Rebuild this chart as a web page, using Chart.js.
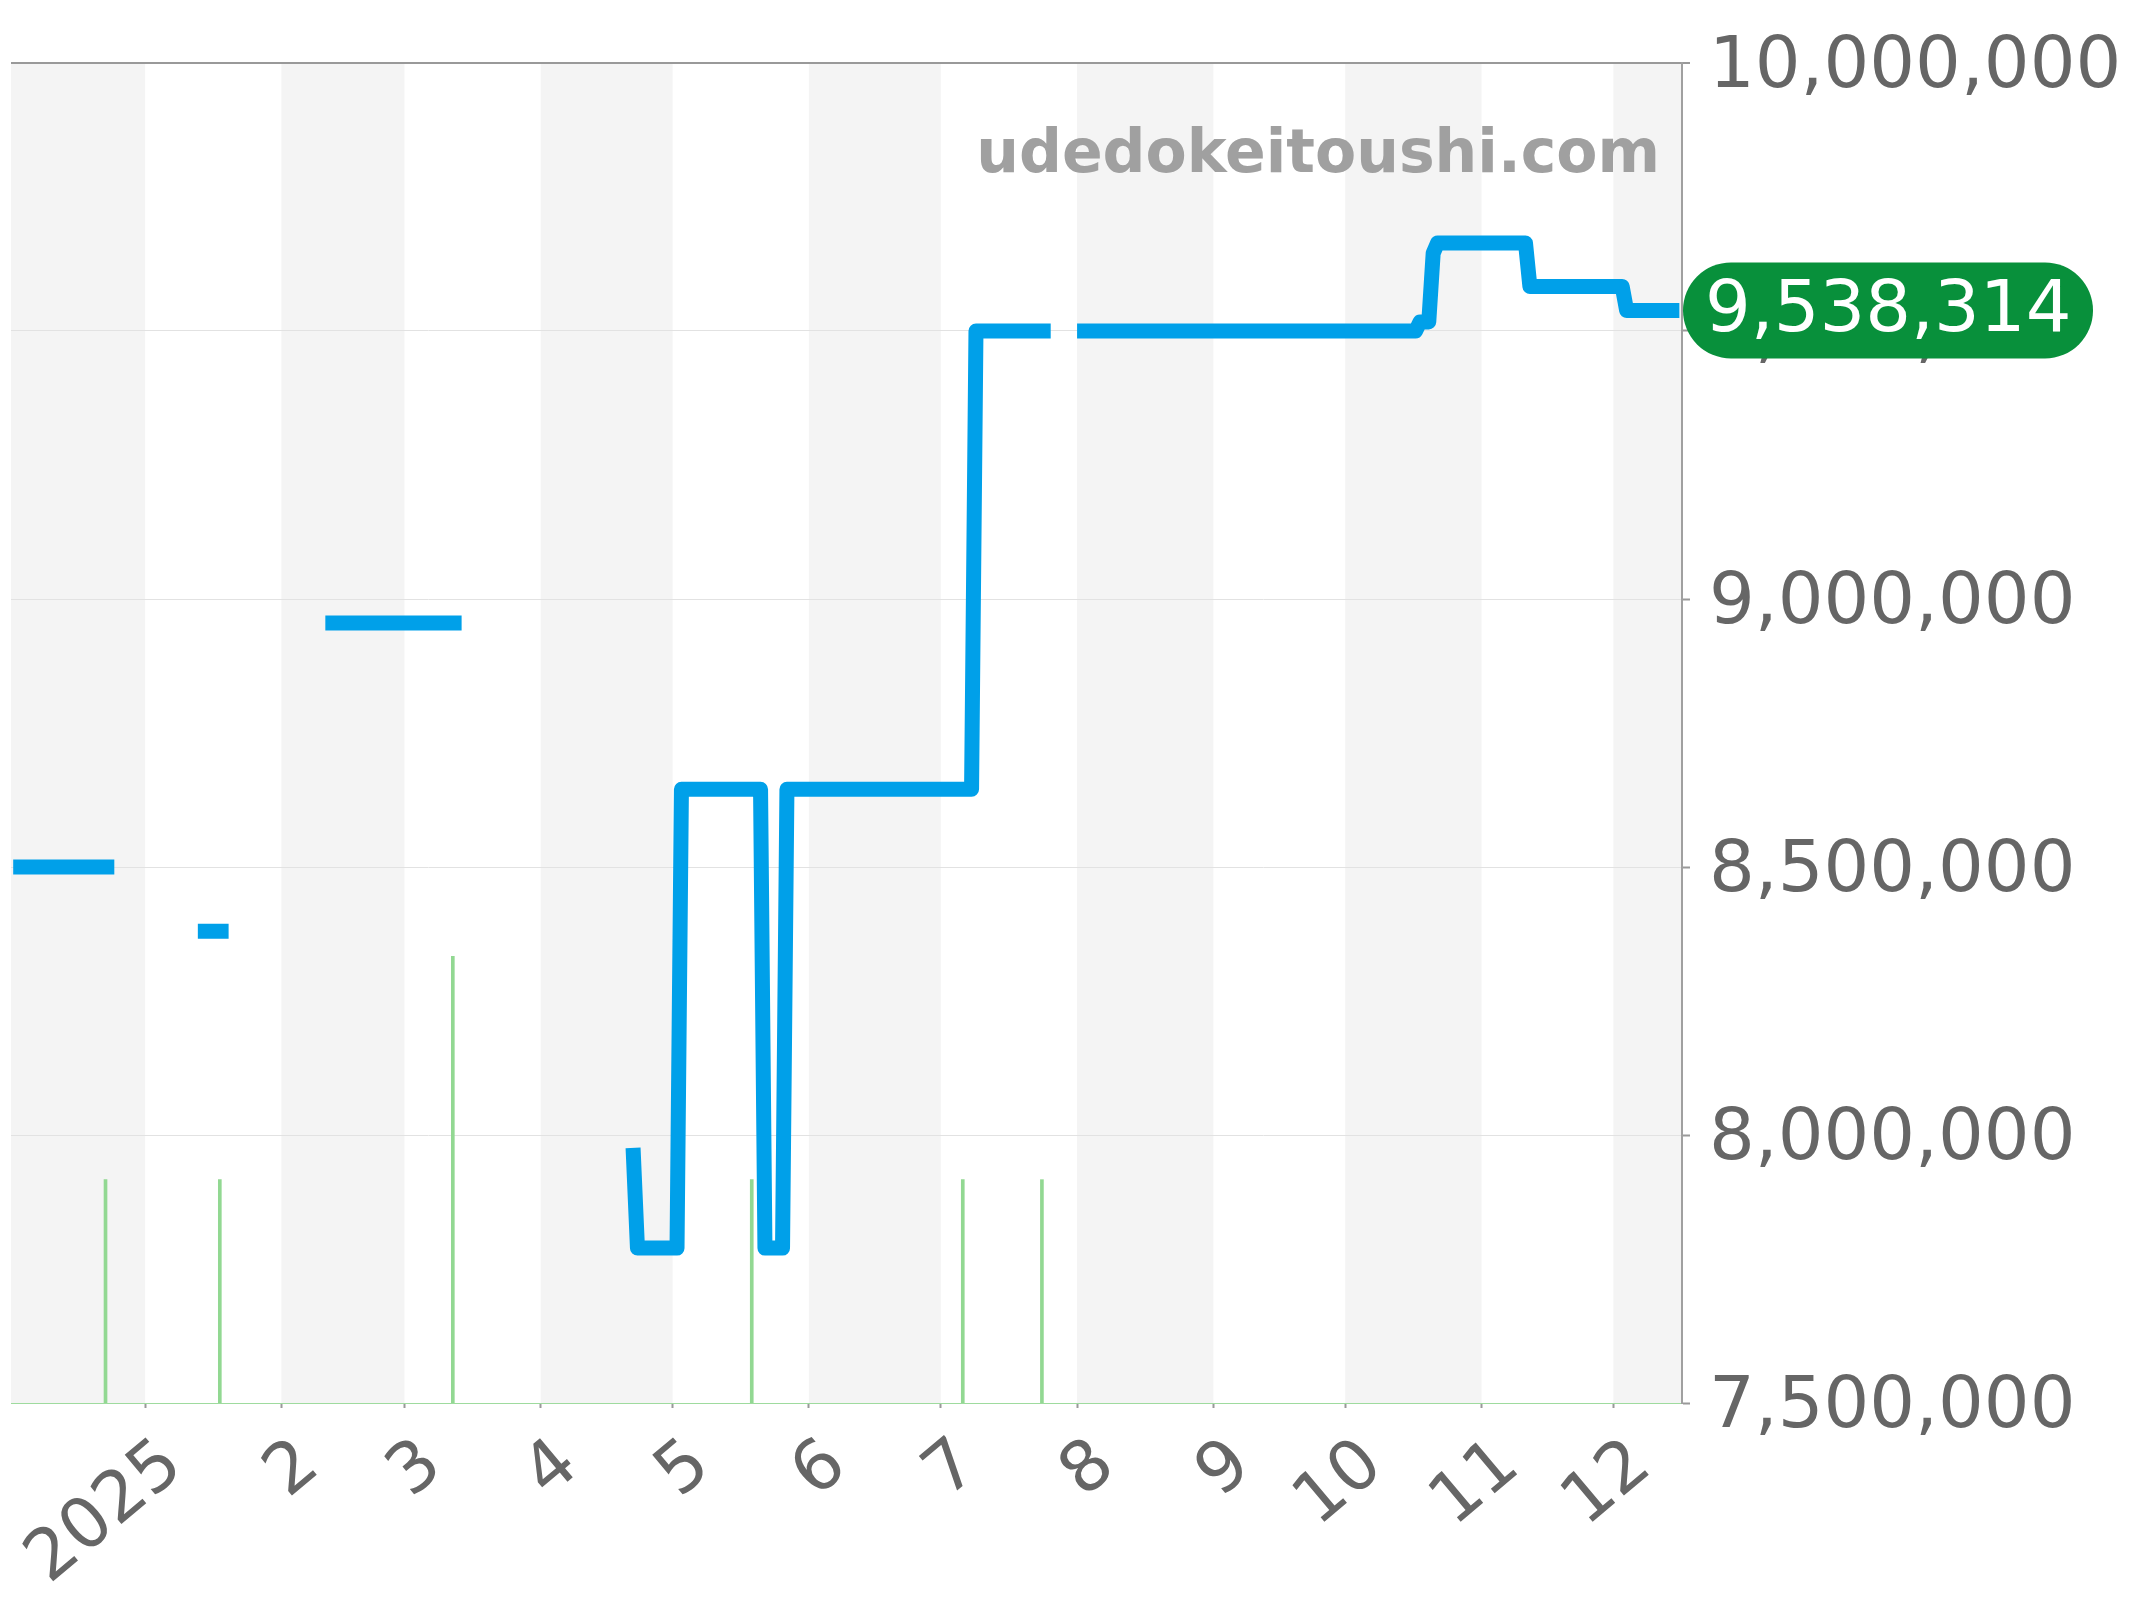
<!DOCTYPE html>
<html>
<head>
<meta charset="utf-8">
<script src="https://cdn.jsdelivr.net/npm/chart.js@4.4.1/dist/chart.umd.min.js"></script>
<style>
  html, body { margin: 0; padding: 0; background: #fff; }
  #chart { display: block; width: 2144px; height: 1600px; }
</style>
</head>
<body>
<canvas id="chart" width="2144" height="1600"></canvas>
<script>
// price line, null = no data (gap in the line)
const priceDates = [
    '2024-12-02', '2024-12-25', '2024-12-26',
    '2025-01-13', '2025-01-20', '2025-01-21',
    '2025-02-11', '2025-03-14', '2025-03-15',
    '2025-04-22', '2025-04-23', '2025-05-02', '2025-05-03', '2025-05-21', '2025-05-22',
    '2025-05-26', '2025-05-27', '2025-07-08', '2025-07-09', '2025-07-26', '2025-07-27',
    '2025-08-01', '2025-10-17', '2025-10-18', '2025-10-20', '2025-10-21', '2025-10-22',
    '2025-11-11', '2025-11-12', '2025-12-03', '2025-12-04', '2025-12-16'
];
const priceValues = [
    8500000, 8500000, null,
    8380000, 8380000, null,
    8955000, 8955000, null,
    7976000, 7789000, 7789000, 8645000, 8645000, 7789000,
    7789000, 8645000, 8645000, 9500000, 9500000, null,
    9500000, 9500000, 9517000, 9517000, 9645000, 9664000,
    9664000, 9583000, 9583000, 9538314, 9538314
];

// listings count (green bars)
const volumeDates = ['2024-12-23', '2025-01-18', '2025-03-12', '2025-05-19', '2025-07-06', '2025-07-24'];
const volumeCounts = [1, 1, 2, 1, 1, 1];

const yTicks = [7500000, 8000000, 8500000, 9000000, 9500000, 10000000];
const watermark = 'udedokeitoushi.com';

const xMin = Date.UTC(2024, 11, 1, 12);
const xMax = Date.UTC(2025, 11, 16, 14, 24);

// month boundaries Dec 2024 .. Jan 2026
let monthEdges = [];
for (let m = 11; m <= 25; m++) {
    monthEdges.push(Date.UTC(2024, m, 1));
}
let monthTicks = monthEdges.filter(v => v >= xMin && v <= xMax);

let toTime = d => new Date(d + 'T00:00:00Z').getTime();

let priceData = priceDates.map((d, i) => ({x: toTime(d), y: priceValues[i]}));
let volumeData = volumeDates.map((d, i) => ({x: toTime(d), y: volumeCounts[i]}));

let lastPrice = priceValues.filter(v => v !== null).slice(-1)[0];

const bandsPlugin = {
    id: 'monthBands',
    beforeDraw(chart) {
        const {ctx, chartArea, scales} = chart;
        const x = scales.x;
        ctx.save();
        ctx.fillStyle = '#f4f4f4';
        for (let i = 0; i < monthEdges.length - 1; i += 2) {
            let x0 = Math.max(x.getPixelForValue(monthEdges[i]), chartArea.left);
            let x1 = Math.min(x.getPixelForValue(monthEdges[i + 1]), chartArea.right);
            if (x1 > x0) {
                ctx.fillRect(x0, chartArea.top, x1 - x0, chartArea.bottom - chartArea.top);
            }
        }
        ctx.restore();
    },
    beforeDatasetsDraw(chart) {
        const {ctx, chartArea} = chart;
        ctx.save();
        ctx.font = 'bold 60px "DejaVu Sans"';
        ctx.fillStyle = '#a0a0a0';
        ctx.textAlign = 'right';
        ctx.textBaseline = 'alphabetic';
        ctx.fillText(watermark, chartArea.right - 22, chartArea.top + 109);
        ctx.restore();
    },
    afterDraw(chart) {
        // green pill with the latest price on the right axis
        const {ctx, chartArea, scales} = chart;
        const y = scales.y.getPixelForValue(lastPrice);
        const left = chartArea.right + 1;
        const w = 410, h = 96, r = 48;
        ctx.save();
        ctx.fillStyle = '#08903b';
        ctx.beginPath();
        ctx.roundRect(left, y - h / 2, w, h, r);
        ctx.fill();
        ctx.font = '72px "DejaVu Sans"';
        ctx.fillStyle = '#fff';
        ctx.textAlign = 'left';
        ctx.textBaseline = 'middle';
        ctx.fillText(lastPrice.toLocaleString('en-US'), left + 22, y + 2);
        ctx.restore();
    }
};

Chart.defaults.font.family = '"DejaVu Sans"';

new Chart(document.getElementById('chart'), {
    data: {
        datasets: [
            {
                type: 'line',
                data: priceData,
                borderColor: '#00a0e9',
                borderWidth: 15,
                borderJoinStyle: 'round',
                borderCapStyle: 'butt',
                pointRadius: 0,
                tension: 0,
                spanGaps: false,
                yAxisID: 'y',
                order: 1
            },
            {
                type: 'bar',
                data: volumeData,
                backgroundColor: '#92d892',
                barThickness: 3,
                yAxisID: 'y2',
                order: 2
            }
        ]
    },
    options: {
        responsive: false,
        animation: false,
        devicePixelRatio: 1,
        layout: {padding: {left: 11, top: 63, right: 0, bottom: 0}},
        plugins: {legend: {display: false}, tooltip: {enabled: false}},
        scales: {
            x: {
                type: 'linear',
                position: 'bottom',
                offset: false,
                min: xMin,
                max: xMax,
                afterBuildTicks: scale => {
                    scale.ticks = monthTicks.map(v => ({value: v}));
                },
                afterFit: scale => {
                    scale.height = 197;
                    scale.paddingLeft = 0;
                    scale.paddingRight = 0;
                },
                ticks: {
                    autoSkip: false,
                    minRotation: 40,
                    maxRotation: 40,
                    padding: 16,
                    labelOffset: 29,
                    color: '#666',
                    font: {size: 70},
                    callback: value => {
                        let d = new Date(value);
                        return d.getUTCMonth() === 0 ? String(d.getUTCFullYear()) : String(d.getUTCMonth() + 1);
                    }
                },
                grid: {
                    offset: false,
                    drawOnChartArea: false,
                    drawTicks: true,
                    tickLength: 5,
                    tickColor: '#999',
                    tickWidth: 2
                },
                border: {display: true, color: '#9edb9e', width: 1, dash: [3, 3]}
            },
            y: {
                position: 'right',
                min: 7500000,
                max: 10000000,
                afterBuildTicks: scale => {
                    scale.ticks = yTicks.map(v => ({value: v}));
                },
                afterFit: scale => {
                    scale.width = 462;
                },
                ticks: {
                    color: '#666',
                    padding: 19,
                    labelOffset: 5,
                    font: {size: 72},
                    callback: value => value.toLocaleString('en-US')
                },
                grid: {
                    color: c => c.tick.value === 10000000 ? '#999' : (c.tick.value === 7500000 ? 'rgba(0,0,0,0)' : '#e2e2e2'),
                    lineWidth: c => c.tick.value === 10000000 ? 2 : 1,
                    tickLength: 8,
                    tickColor: '#999',
                    tickWidth: 2
                },
                border: {display: true, color: '#a0a0a0', width: 2}
            },
            y2: {
                display: false,
                min: 0,
                max: 6
            }
        }
    },
    plugins: [bandsPlugin]
});
</script>
</body>
</html>
